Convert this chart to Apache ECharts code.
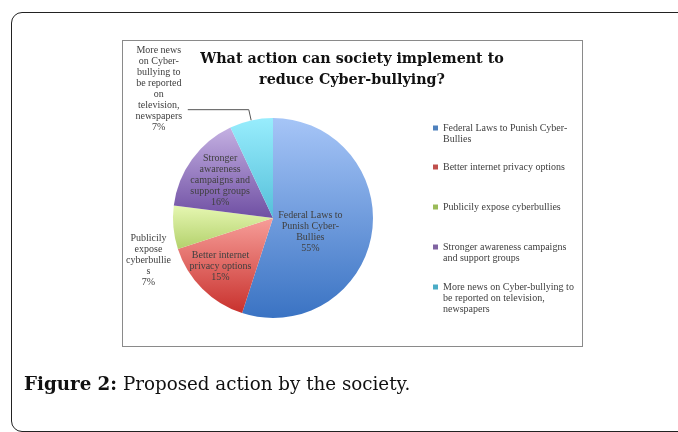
<!DOCTYPE html>
<html>
<head>
<meta charset="utf-8">
<script src="https://cdn.jsdelivr.net/npm/echarts@6/dist/echarts.min.js"></script>
<style>
  html, body { margin:0; padding:0; background:#fff; }
  body { width:678px; height:432px; overflow:hidden; position:relative; }
  #outer { position:absolute; left:11px; top:12px; width:720px; height:418px; border:1.5px solid #222; border-radius:11px 0 0 11px; box-sizing:content-box; }
  #box { position:absolute; left:122px; top:40px; width:459px; height:305px; border:1px solid #8a8a8a; background:#fff; }
  #chart { position:absolute; left:0; top:0; width:678px; height:432px; }
  #cap { position:absolute; left:24px; top:373px; font-family:'DejaVu Serif', serif; font-size:18.3px; color:#111; white-space:nowrap; line-height:22px; }
  #cap b { font-weight:bold; }
</style>
</head>
<body>
<div id="outer"></div>
<div id="box"></div>
<div id="chart"></div>
<div id="cap"><b>Figure 2:</b> Proposed action by the society.</div>
<script>
// ---- data ----
const categories = [
  "Federal Laws to Punish Cyber-Bullies",
  "Better internet privacy options",
  "Publicily expose cyberbullies",
  "Stronger awareness campaigns and support groups",
  "More news on Cyber-bullying to be reported on television, newspapers"
];
const values = [55, 15, 7, 16, 7];
const sliceLabelLines = [
  ["Federal Laws to", "Punish Cyber-", "Bullies"],
  ["Better internet", "privacy options"],
  ["Publicily", "expose", "cyberbullie", "s"],
  ["Stronger", "awareness", "campaigns and", "support groups"],
  ["More news", "on Cyber-", "bullying to", "be reported", "on", "television,", "newspapers"]
];
const legendLines = [
  ["Federal Laws to Punish Cyber-", "Bullies"],
  ["Better internet privacy options"],
  ["Publicily expose cyberbullies"],
  ["Stronger awareness campaigns", "and support groups"],
  ["More news on Cyber-bullying to", "be reported on television,", "newspapers"]
];
const titleText = "What action can society implement to\nreduce Cyber-bullying?";

// ---- styles ----
const baseColors = ['#4f81bd', '#c0504d', '#9bbb59', '#8064a2', '#4bacc6'];
const gradTop = ['#a6c5f7', '#f79e99', '#e6f7b2', '#c4b0e2', '#98edfd'];
const gradBottom = ['#3a73c3', '#c8312d', '#b3d16c', '#6f4fa3', '#55bfd9'];
const FONT = "'Liberation Serif', serif";
const TFONT = "'DejaVu Serif', serif";
const FS = 10;
const LH = 11;
const legendTops = [122.5, 161.5, 201.5, 241.5, 281.5];
const labelShift = [[-15, 6], [-15, 11], [0, 33], [-10, -6.5], null];

// legend icon: small square aligned with the first text line of a multi-line entry
function legendIcon(nLines) {
  const h = nLines * LH;
  const c = LH / 2;
  return 'path://M0,0h0.01v0.01h-0.01z M0,' + (c - 2.5) + 'h5v5h-5z M0,' + (h - 0.01) + 'h0.01v0.01h-0.01z';
}

const chart = echarts.init(document.getElementById('chart'), null, {renderer: 'canvas'});

const data = categories.map((name, i) => {
  const item = {
    name: name,
    value: values[i],
    itemStyle: {
      color: {
        type: 'linear', x: 0, y: 0, x2: 0, y2: 1,
        colorStops: [{offset: 0, color: gradTop[i]}, {offset: 1, color: gradBottom[i]}]
      }
    }
  };
  if (i === 2) {
    item.label = { position: 'outside', width: 50, distanceToLabelLine: 0 };
    item.labelLine = { show: false, length: 0, length2: 0 };
  } else if (i === 4) {
    item.label = { position: 'outside', width: 52, distanceToLabelLine: 3, padding: [0, 0, 42, 0] };
    item.labelLine = { show: true, length: 11, length2: 61, lineStyle: {color: '#555', width: 1} };
  } else {
    item.label = { position: 'inside' };
    item.labelLine = { show: false };
  }
  return item;
});

const legends = categories.map((name, i) => {
  const n = legendLines[i].length;
  return {
    orient: 'vertical',
    left: 433,
    top: legendTops[i],
    padding: 0,
    icon: n > 1 ? legendIcon(n) : 'rect',
    itemWidth: 5,
    itemHeight: n > 1 ? n * LH : 5,
    selectedMode: false,
    data: [{ name: name, itemStyle: { color: baseColors[i] } }],
    formatter: () => legendLines[i].join('\n'),
    textStyle: { fontFamily: FONT, fontSize: FS, color: '#404040', lineHeight: LH }
  };
});

chart.setOption({
  animation: false,
  title: {
    text: titleText,
    left: 352,
    top: 49,
    textAlign: 'center',
    padding: 0,
    textStyle: { fontFamily: TFONT, fontSize: 14.3, fontWeight: 'bold', color: '#111', lineHeight: 21 }
  },
  legend: legends,
  series: [{
    type: 'pie',
    center: [273, 218],
    radius: [0, 100],
    startAngle: 90,
    clockwise: true,
    avoidLabelOverlap: false,
    itemStyle: { borderWidth: 0 },
    label: {
      fontFamily: FONT, fontSize: FS, color: '#404040', lineHeight: LH,
      formatter: (p) => sliceLabelLines[p.dataIndex].concat([Math.round(p.percent) + '%']).map(s => '{c|' + s + '}').join('\n'),
      rich: { c: { align: 'center', fontFamily: FONT, fontSize: FS, color: '#404040', lineHeight: LH } }
    },
    labelLayout: (params) => {
      const s = labelShift[params.dataIndex];
      return s ? { dx: s[0], dy: s[1] } : {};
    },
    data: data
  }]
});
</script>
</body>
</html>
